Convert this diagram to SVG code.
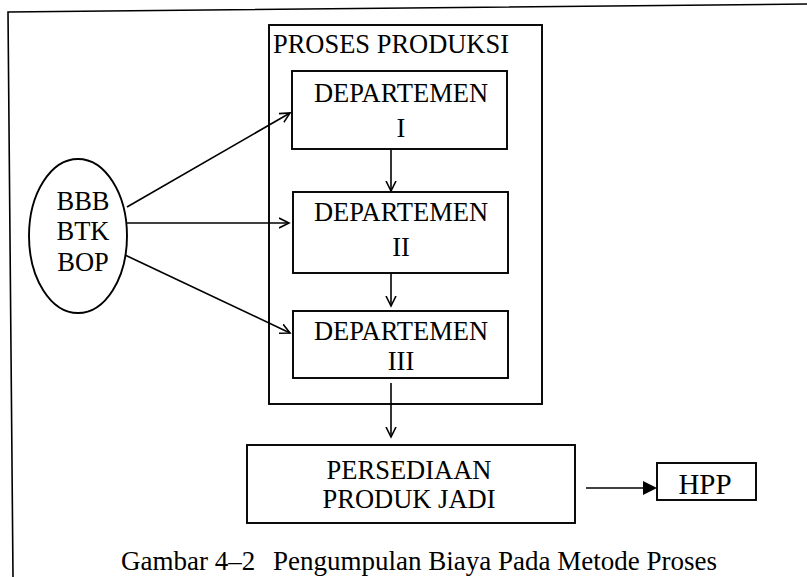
<svg xmlns="http://www.w3.org/2000/svg" width="807" height="577" viewBox="0 0 807 577">
  <style>
    .box { fill: none; stroke: #000; stroke-width: 1.9; }
    .lbl { font-family: 'Liberation Serif', 'DejaVu Serif', serif; font-size: 26.5px; fill: #000; }
    .cap { font-size: 27px; }
    .mid { text-anchor: middle; }
    .wire { fill: none; stroke: #000; stroke-width: 1.6; }
  </style>
  <defs>
    <marker id="open" markerWidth="12" markerHeight="12" refX="10" refY="5" orient="auto" markerUnits="userSpaceOnUse" viewBox="0 0 12 10">
      <path d="M0,0 L10,5 L0,10" fill="none" stroke="#000" stroke-width="1.6"/>
    </marker>
  </defs>

  <rect width="807" height="577" fill="#fff"/>

  <!-- page frame -->
  <path class="wire" d="M13,577 L8,12 L807,4"/>

  <!-- process container -->
  <g id="proses-produksi">
    <rect class="box" x="269" y="25" width="273" height="379"/>
    <text class="lbl" x="273" y="53" textLength="236" lengthAdjust="spacingAndGlyphs">PROSES PRODUKSI</text>
  </g>

  <g id="dept-1">
    <rect class="box" x="292" y="71" width="215" height="78"/>
    <text class="lbl mid" x="401" y="102">DEPARTEMEN</text>
    <text class="lbl mid" x="401" y="137">I</text>
  </g>

  <g id="dept-2">
    <rect class="box" x="293" y="192" width="215" height="81"/>
    <text class="lbl mid" x="401" y="221">DEPARTEMEN</text>
    <text class="lbl mid" x="401" y="256">II</text>
  </g>

  <g id="dept-3">
    <rect class="box" x="293" y="311" width="215" height="67"/>
    <text class="lbl mid" x="401" y="340">DEPARTEMEN</text>
    <text class="lbl mid" x="401" y="370">III</text>
  </g>

  <g id="biaya">
    <ellipse class="box" cx="78" cy="236" rx="49" ry="77"/>
    <text class="lbl mid" x="83" y="210">BBB</text>
    <text class="lbl mid" x="83" y="240">BTK</text>
    <text class="lbl mid" x="83" y="271">BOP</text>
  </g>

  <g id="persediaan">
    <rect class="box" x="247" y="445" width="328" height="78"/>
    <text class="lbl mid" x="409" y="479">PERSEDIAAN</text>
    <text class="lbl mid" x="409" y="508">PRODUK JADI</text>
  </g>

  <g id="hpp">
    <rect class="box" x="657" y="463" width="99" height="37"/>
    <text class="lbl mid" x="705" y="494" style="font-size:29px">HPP</text>
  </g>

  <g id="connectors">
    <line class="wire" x1="127" y1="207" x2="290" y2="113" marker-end="url(#open)"/>
    <line class="wire" x1="127" y1="223" x2="289" y2="223" marker-end="url(#open)"/>
    <line class="wire" x1="125" y1="255" x2="290" y2="333" marker-end="url(#open)"/>
    <line class="wire" x1="391" y1="149" x2="391" y2="191" marker-end="url(#open)"/>
    <line class="wire" x1="391" y1="273" x2="391" y2="306" marker-end="url(#open)"/>
    <line class="wire" x1="391" y1="383" x2="391" y2="437" marker-end="url(#open)"/>
    <line class="wire" x1="586" y1="488" x2="645" y2="488"/>
    <polygon points="643,481 657,488 643,495" fill="#000"/>
  </g>

  <g id="caption">
    <text class="lbl cap" x="121" y="570">Gambar 4–2</text>
    <text class="lbl cap" x="273" y="570">Pengumpulan Biaya Pada Metode Proses</text>
  </g>
</svg>
